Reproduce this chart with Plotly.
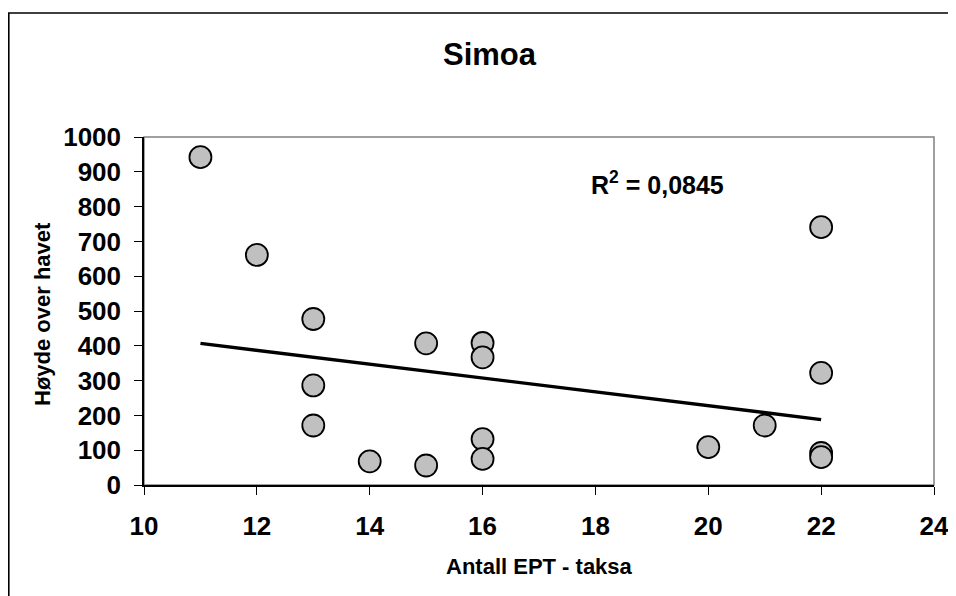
import plotly.graph_objects as go

# Data
ept_taxa = [11, 12, 13, 13, 13, 14, 15, 15, 16, 16, 16, 16, 20, 21, 22, 22, 22, 22]
altitude = [942, 661, 477, 286, 171, 68, 407, 56, 408, 367, 132, 75, 109, 171, 741, 322, 92, 80]

# Linear trend line (as drawn in the reference)
trend_x = [11, 22]
trend_y = [407, 188]

title_text = "Simoa"
x_title = "Antall EPT - taksa"
y_title = "Høyde over havet"
r2_text = "R<sup>2</sup> = 0,0845"
x_ticks = [10, 12, 14, 16, 18, 20, 22, 24]
y_ticks = [0, 100, 200, 300, 400, 500, 600, 700, 800, 900, 1000]

FONT = "Liberation Sans, Arial, sans-serif"

fig = go.Figure()
fig.add_trace(go.Scatter(
    x=ept_taxa, y=altitude, mode="markers",
    marker=dict(size=22, color="#c0c0c0", line=dict(color="#000000", width=1.8)),
    showlegend=False, cliponaxis=False,
))
fig.add_trace(go.Scatter(
    x=trend_x, y=trend_y, mode="lines",
    line=dict(color="#000000", width=3.4),
    showlegend=False,
))

OFF = 8  # page body margin
W, H = 948, 588
L, R, T, B = 136, 22, 129, 111
pw, ph = W - L - R, H - T - B

def px(xp):
    # page x -> paper x
    return (xp - OFF - L) / pw

def py(yp):
    # page y -> paper y
    return (H - B - (yp - OFF)) / ph

axis_font = dict(family=FONT, size=26, color="#000000", weight="bold")

fig.update_layout(
    width=W, height=H,
    margin=dict(l=L, r=R, t=T, b=B, pad=0, autoexpand=False),
    paper_bgcolor="white", plot_bgcolor="white",
    font=dict(family=FONT, color="#000000"),
    xaxis=dict(
        range=[10, 24], tickvals=x_ticks, ticktext=[str(v) for v in x_ticks],
        showgrid=False, zeroline=False, automargin=False,
        showline=True, linecolor="#000000", linewidth=1.5,
        ticks="outside", ticklen=8, tickwidth=1.3, tickcolor="#000000",
        tickfont=axis_font, ticklabelstandoff=9, ticklabeloverflow="allow",
    ),
    yaxis=dict(
        range=[0, 1000], tickvals=y_ticks, ticktext=[str(v) for v in y_ticks],
        showgrid=False, zeroline=False, automargin=False,
        showline=True, linecolor="#000000", linewidth=1.5,
        ticks="outside", ticklen=8, tickwidth=1.3, tickcolor="#000000",
        tickfont=axis_font, ticklabelstandoff=8, ticklabeloverflow="allow",
    ),
    shapes=[
        # plot area border (gray)
        dict(type="rect", xref="paper", yref="paper", x0=0, x1=1, y0=0, y1=1,
             line=dict(color="#808080", width=1.5), layer="below"),
        # outer chart frame
        dict(type="rect", xref="paper", yref="paper",
             x0=px(8.8), x1=px(1000), y0=py(700), y1=py(13),
             line=dict(color="#000000", width=1.6), layer="below"),
    ],
    annotations=[
        dict(text=title_text, xref="paper", yref="paper", x=px(490), y=py(54),
             showarrow=False, xanchor="center", yanchor="middle",
             font=dict(family=FONT, size=31, color="#000000", weight="bold")),
        dict(text=x_title, xref="paper", yref="paper", x=px(539), y=py(566),
             showarrow=False, xanchor="center", yanchor="middle",
             font=dict(family=FONT, size=22, color="#000000", weight="bold")),
        dict(text=y_title, xref="paper", yref="paper", x=px(42), y=py(314),
             showarrow=False, xanchor="center", yanchor="middle", textangle=-90,
             font=dict(family=FONT, size=22, color="#000000", weight="bold")),
        dict(text=r2_text, xref="x", yref="y", x=19.1, y=869,
             showarrow=False, xanchor="center", yanchor="middle",
             font=dict(family=FONT, size=25, color="#000000", weight="bold")),
    ],
)

fig.write_html("out.html")
